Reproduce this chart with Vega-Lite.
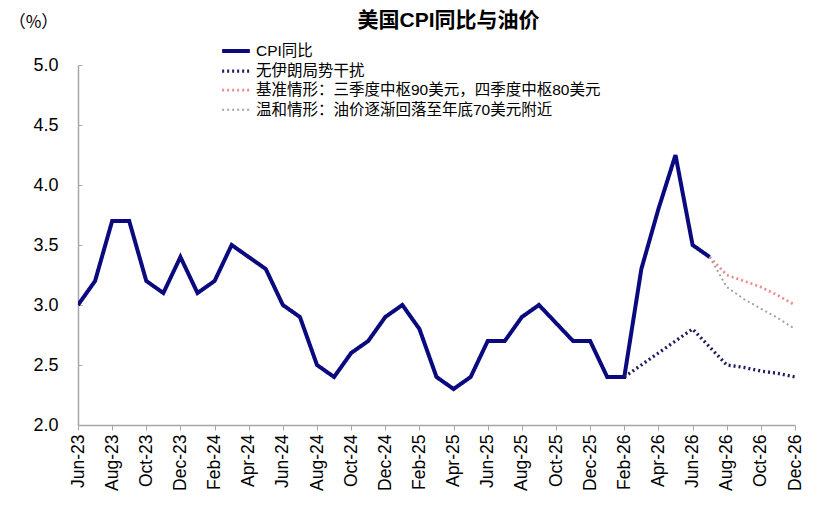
{
  "$schema": "https://vega.github.io/schema/vega-lite/v6.json",
  "width": 717,
  "height": 360,
  "autosize": {"type": "none"},
  "padding": {"left": 78, "top": 65, "right": 38, "bottom": 85},
  "background": "white",
  "config": {
    "view": {"stroke": null},
    "font": "Liberation Sans, Noto Sans CJK SC"
  },
  "title": {
    "text": "美国CPI同比与油价",
    "fontSize": 21,
    "fontWeight": "bold",
    "color": "black",
    "anchor": "middle",
    "offset": -18,
    "dx": 12,
    "font": "Liberation Sans, Noto Sans CJK SC"
  },
  "data": {
    "values": [
      {"month": "Jun-23", "series": "CPI同比", "value": 3.0},
      {"month": "Jul-23", "series": "CPI同比", "value": 3.2},
      {"month": "Aug-23", "series": "CPI同比", "value": 3.7},
      {"month": "Sep-23", "series": "CPI同比", "value": 3.7},
      {"month": "Oct-23", "series": "CPI同比", "value": 3.2},
      {"month": "Nov-23", "series": "CPI同比", "value": 3.1},
      {"month": "Dec-23", "series": "CPI同比", "value": 3.4},
      {"month": "Jan-24", "series": "CPI同比", "value": 3.1},
      {"month": "Feb-24", "series": "CPI同比", "value": 3.2},
      {"month": "Mar-24", "series": "CPI同比", "value": 3.5},
      {"month": "Apr-24", "series": "CPI同比", "value": 3.4},
      {"month": "May-24", "series": "CPI同比", "value": 3.3},
      {"month": "Jun-24", "series": "CPI同比", "value": 3.0},
      {"month": "Jul-24", "series": "CPI同比", "value": 2.9},
      {"month": "Aug-24", "series": "CPI同比", "value": 2.5},
      {"month": "Sep-24", "series": "CPI同比", "value": 2.4},
      {"month": "Oct-24", "series": "CPI同比", "value": 2.6},
      {"month": "Nov-24", "series": "CPI同比", "value": 2.7},
      {"month": "Dec-24", "series": "CPI同比", "value": 2.9},
      {"month": "Jan-25", "series": "CPI同比", "value": 3.0},
      {"month": "Feb-25", "series": "CPI同比", "value": 2.8},
      {"month": "Mar-25", "series": "CPI同比", "value": 2.4},
      {"month": "Apr-25", "series": "CPI同比", "value": 2.3},
      {"month": "May-25", "series": "CPI同比", "value": 2.4},
      {"month": "Jun-25", "series": "CPI同比", "value": 2.7},
      {"month": "Jul-25", "series": "CPI同比", "value": 2.7},
      {"month": "Aug-25", "series": "CPI同比", "value": 2.9},
      {"month": "Sep-25", "series": "CPI同比", "value": 3.0},
      {"month": "Oct-25", "series": "CPI同比", "value": 2.85},
      {"month": "Nov-25", "series": "CPI同比", "value": 2.7},
      {"month": "Dec-25", "series": "CPI同比", "value": 2.7},
      {"month": "Jan-26", "series": "CPI同比", "value": 2.4},
      {"month": "Feb-26", "series": "CPI同比", "value": 2.4},
      {"month": "Mar-26", "series": "CPI同比", "value": 3.3},
      {"month": "Apr-26", "series": "CPI同比", "value": 3.8},
      {"month": "May-26", "series": "CPI同比", "value": 4.25},
      {"month": "Jun-26", "series": "CPI同比", "value": 3.5},
      {"month": "Jul-26", "series": "CPI同比", "value": 3.4},
      {"month": "Feb-26", "series": "无伊朗局势干扰", "value": 2.4},
      {"month": "Mar-26", "series": "无伊朗局势干扰", "value": 2.5},
      {"month": "Apr-26", "series": "无伊朗局势干扰", "value": 2.6},
      {"month": "May-26", "series": "无伊朗局势干扰", "value": 2.7},
      {"month": "Jun-26", "series": "无伊朗局势干扰", "value": 2.8},
      {"month": "Jul-26", "series": "无伊朗局势干扰", "value": 2.65},
      {"month": "Aug-26", "series": "无伊朗局势干扰", "value": 2.5},
      {"month": "Sep-26", "series": "无伊朗局势干扰", "value": 2.48},
      {"month": "Oct-26", "series": "无伊朗局势干扰", "value": 2.45},
      {"month": "Nov-26", "series": "无伊朗局势干扰", "value": 2.43},
      {"month": "Dec-26", "series": "无伊朗局势干扰", "value": 2.4},
      {"month": "Jul-26", "series": "基准情形：三季度中枢90美元，四季度中枢80美元", "value": 3.4},
      {"month": "Aug-26", "series": "基准情形：三季度中枢90美元，四季度中枢80美元", "value": 3.25},
      {"month": "Sep-26", "series": "基准情形：三季度中枢90美元，四季度中枢80美元", "value": 3.2},
      {"month": "Oct-26", "series": "基准情形：三季度中枢90美元，四季度中枢80美元", "value": 3.15},
      {"month": "Nov-26", "series": "基准情形：三季度中枢90美元，四季度中枢80美元", "value": 3.08},
      {"month": "Dec-26", "series": "基准情形：三季度中枢90美元，四季度中枢80美元", "value": 3.0},
      {"month": "Jul-26", "series": "温和情形：油价逐渐回落至年底70美元附近", "value": 3.4},
      {"month": "Aug-26", "series": "温和情形：油价逐渐回落至年底70美元附近", "value": 3.15},
      {"month": "Sep-26", "series": "温和情形：油价逐渐回落至年底70美元附近", "value": 3.05},
      {"month": "Oct-26", "series": "温和情形：油价逐渐回落至年底70美元附近", "value": 2.97},
      {"month": "Nov-26", "series": "温和情形：油价逐渐回落至年底70美元附近", "value": 2.89},
      {"month": "Dec-26", "series": "温和情形：油价逐渐回落至年底70美元附近", "value": 2.8}
    ]
  },
  "mark": {"type": "line", "clip": true},
  "encoding": {
    "x": {
      "field": "month",
      "type": "ordinal",
      "sort": null,
      "scale": {"type": "point", "padding": 0},
      "axis": {
        "title": null,
        "labelExpr": "indexof(['Jun','Aug','Oct','Dec','Feb','Apr'], slice(datum.value, 0, 3)) >= 0 ? datum.value : ''",
        "tickOpacity": {
          "condition": {"test": "indexof(['Jun','Aug','Oct','Dec','Feb','Apr'], slice(datum.value, 0, 3)) >= 0", "value": 1},
          "value": 0
        },
        "labelAngle": -90,
        "labelFontSize": 17.5,
        "labelColor": "black",
        "labelPadding": 4,
        "labelOverlap": false,
        "labelBound": false,
        "labelFlush": false,
        "domainColor": "#a6a6a6",
        "domainWidth": 1.5,
        "tickColor": "#a6a6a6",
        "tickSize": 5,
        "grid": false
      }
    },
    "y": {
      "field": "value",
      "type": "quantitative",
      "scale": {"domain": [2.0, 5.0], "nice": false, "zero": false},
      "axis": {
        "title": "（%）",
        "titleFont": "Noto Sans CJK SC",
        "titleAngle": 0,
        "titleX": -45,
        "titleY": -43,
        "titleAlign": "center",
        "titleBaseline": "middle",
        "titleFontSize": 17,
        "titleFontWeight": "normal",
        "titleColor": "black",
        "values": [2.0, 2.5, 3.0, 3.5, 4.0, 4.5, 5.0],
        "format": ".1f",
        "labelFontSize": 18,
        "labelColor": "black",
        "labelPadding": 24,
        "domainColor": "#a6a6a6",
        "domainWidth": 1.5,
        "tickColor": "#a6a6a6",
        "tickSize": -4,
        "grid": false
      }
    },
    "color": {
      "field": "series",
      "type": "nominal",
      "sort": null,
      "scale": {
        "domain": ["CPI同比", "无伊朗局势干扰", "基准情形：三季度中枢90美元，四季度中枢80美元", "温和情形：油价逐渐回落至年底70美元附近"],
        "range": ["#0a0a7e", "#1c1c5e", "#ee8c8c", "#a3a3a3"]
      },
      "legend": {
        "title": null,
        "orient": "none",
        "legendX": 147,
        "legendY": -25,
        "padding": 0,
        "rowPadding": 0.6,
        "symbolType": "M-1.6,0H1.6",
        "symbolSize": 300,
        "labelOffset": 9,
        "labelFontSize": 15.5,
        "labelColor": "black",
        "labelLimit": 600
      }
    },
    "strokeDash": {
      "field": "series",
      "type": "nominal",
      "sort": null,
      "scale": {
        "domain": ["CPI同比", "无伊朗局势干扰", "基准情形：三季度中枢90美元，四季度中枢80美元", "温和情形：油价逐渐回落至年底70美元附近"],
        "range": [[1, 0], [2, 3], [2, 3], [2, 3]]
      }
    },
    "strokeWidth": {
      "field": "series",
      "type": "nominal",
      "sort": null,
      "scale": {
        "domain": ["CPI同比", "无伊朗局势干扰", "基准情形：三季度中枢90美元，四季度中枢80美元", "温和情形：油价逐渐回落至年底70美元附近"],
        "range": [4, 2, 2, 2]
      }
    }
  }
}
